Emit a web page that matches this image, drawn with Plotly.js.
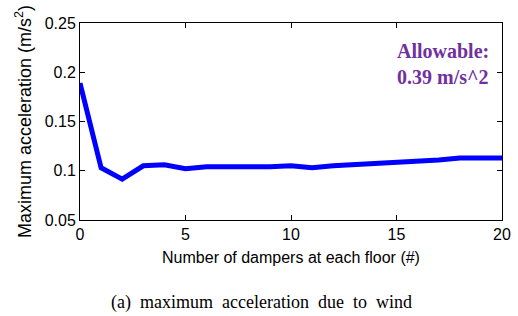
<!DOCTYPE html>
<html>
<head>
<meta charset="utf-8">
<script src="https://cdn.plot.ly/plotly-3.0.1.min.js"></script>
<style>html,body{margin:0;padding:0;background:#fff;}#chart{width:518px;height:316px;}</style>
</head>
<body>
<div id="chart"></div>
<script>
const dampers = [0,1,2,3,4,5,6,7,8,9,10,11,12,13,14,15,16,17,18,19,20];
const maxAccel = [0.189,0.103,0.0915,0.105,0.106,0.102,0.104,0.104,0.103,0.104,0.105,0.103,0.105,0.106,0.107,0.108,0.110,0.111,0.113,0.113,0.113];
const xTicks = [0,5,10,15,20];
const yTicks = [0.05,0.1,0.15,0.2,0.25];
const yTickText = ['0.05','0.1','0.15','0.2','0.25'];

const trace = {
  x: dampers, y: maxAccel, type: 'scatter', mode: 'lines',
  line: {color: '#0000FF', width: 5}
};
const axisCommon = {
  showline: true, linecolor: '#000', linewidth: 1, mirror: 'ticks',
  ticks: 'inside', ticklen: 5, tickcolor: '#000', showgrid: false, zeroline: false,
  tickfont: {family: 'Liberation Sans, Arial, sans-serif', size: 16, color: '#000'}
};
const layout = {
  width: 518, height: 316,
  margin: {l: 80, r: 16, t: 23, b: 96},
  paper_bgcolor: '#fff', plot_bgcolor: '#fff',
  showlegend: false,
  xaxis: Object.assign({}, axisCommon, {
    range: [0, 20], tickvals: xTicks, ticktext: xTicks.map(String),
    title: {text: 'Number of dampers at each floor (#)', standoff: 9,
      font: {family: 'Liberation Sans, Arial, sans-serif', size: 16, color: '#000'}}
  }),
  yaxis: Object.assign({}, axisCommon, {
    range: [0.05, 0.25], tickvals: yTicks, ticktext: yTickText,
    title: {text: 'Maximum acceleration (m/s<sup>2</sup>)', standoff: 8,
      font: {family: 'Liberation Sans, Arial, sans-serif', size: 18, color: '#000'}}
  }),
  annotations: [
    {xref: 'paper', yref: 'paper', x: 0.975, y: 0.79, xanchor: 'right', yanchor: 'middle',
     text: '<b>Allowable:<br>0.39 m/s^2</b>', showarrow: false, align: 'left',
     font: {family: 'Liberation Serif, Times New Roman, serif', size: 20, color: '#7030A0'}},
    {xref: 'paper', yref: 'paper', x: 0.43, y: -0.42, xanchor: 'center', yanchor: 'middle',
     text: '(a)&nbsp; maximum&nbsp; acceleration&nbsp; due&nbsp; to&nbsp; wind', showarrow: false,
     font: {family: 'Liberation Serif, Times New Roman, serif', size: 18, color: '#000'}}
  ]
};
Plotly.newPlot('chart', [trace], layout, {displayModeBar: false, staticPlot: true});
</script>
</body>
</html>
